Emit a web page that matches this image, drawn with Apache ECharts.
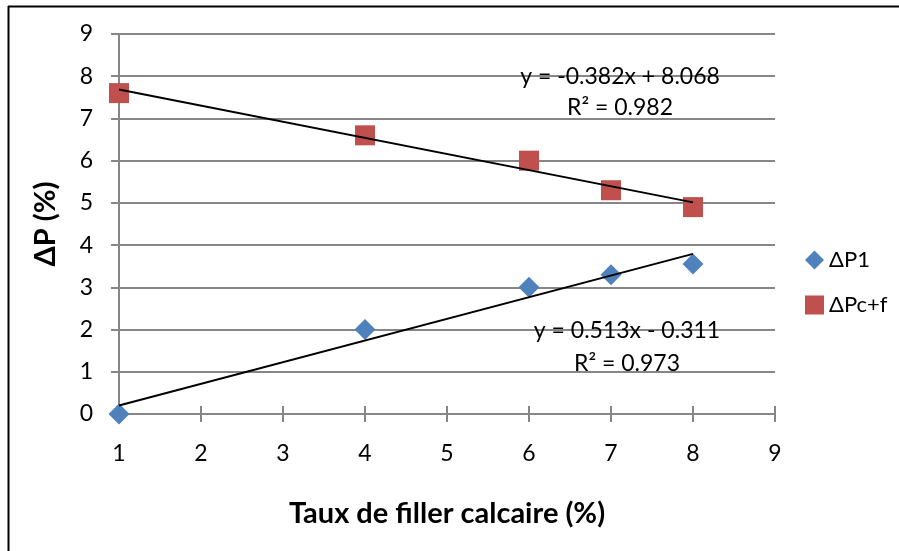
<!DOCTYPE html>
<html><head><meta charset="utf-8">
<script src="https://cdn.jsdelivr.net/npm/echarts@6/dist/echarts.min.js"></script>
<style>html,body{margin:0;padding:0;background:#fff}#c{width:899px;height:551px}</style>
</head><body><div id="c"></div>
<script>
const xP1 = [1, 4, 6, 7, 8];
const yP1 = [0, 2.0, 3.0, 3.3, 3.55];
const xPcf = [1, 4, 6, 7, 8];
const yPcf = [7.6, 6.6, 6.0, 5.3, 4.9];
const trendP1 = [[1, 0.202], [8, 3.793]];
const trendPcf = [[1, 7.686], [8, 5.012]];
const eqP1 = ['y = 0.513x - 0.311', 'R² = 0.973'];
const eqPcf = ['y = -0.382x + 8.068', 'R² = 0.982'];
const seriesNames = ['ΔP1', 'ΔPc+f'];
const xTitle = 'Taux de filler calcaire (%)';
const yTitle = 'ΔP (%)';

const FONT = 'Lato';
const gray = '#868686';
const chart = echarts.init(document.getElementById('c'), null, {renderer: 'canvas'});
const zip = (a, b) => a.map((v, i) => [v, b[i]]);
const eqFont = '23px ' + FONT;
chart.setOption({
  animation: false,
  textStyle: {fontFamily: FONT},
  grid: {left: 119, right: 124, top: 34, bottom: 137},
  legend: {
    orient: 'vertical', left: 800, top: 243, itemGap: 21, itemWidth: 19, itemHeight: 19,
    textStyle: {fontSize: 22, lineHeight: 24, color: '#000', fontFamily: FONT},
    data: [{name: seriesNames[0], icon: 'diamond'}, {name: seriesNames[1], icon: 'rect'}]
  },
  xAxis: [{
    type: 'value', min: 1, max: 9, interval: 1,
    name: xTitle, nameLocation: 'middle', nameGap: 85,
    nameTextStyle: {fontSize: 29, fontWeight: 'bold', color: '#000', fontFamily: FONT},
    axisLine: {lineStyle: {color: gray, width: 2}},
    axisTick: {show: true, length: 8, lineStyle: {color: gray, width: 2}},
    axisLabel: {fontSize: 23, color: '#000', margin: 28},
    splitLine: {show: false}
  }, {
    type: 'value', min: 1, max: 9, interval: 1, position: 'bottom',
    axisLine: {show: false},
    axisTick: {show: true, inside: true, length: 8, lineStyle: {color: gray, width: 2}},
    axisLabel: {show: false}, splitLine: {show: false}
  }],
  yAxis: {
    type: 'value', min: 0, max: 9, interval: 1,
    name: yTitle, nameLocation: 'middle', nameGap: 59, nameRotate: 90,
    nameTextStyle: {fontSize: 29, fontWeight: 'bold', color: '#000', fontFamily: FONT},
    axisLine: {show: true, lineStyle: {color: gray, width: 2}},
    axisTick: {show: true, length: 8, lineStyle: {color: gray, width: 2}},
    axisLabel: {fontSize: 23, color: '#000', margin: 26},
    splitLine: {show: true, lineStyle: {color: gray, width: 2}}
  },
  series: [
    {name: seriesNames[0], type: 'scatter', symbol: 'diamond', symbolSize: 21,
     itemStyle: {color: '#4F81BD', opacity: 1}, data: zip(xP1, yP1), z: 3},
    {name: seriesNames[1], type: 'scatter', symbol: 'rect', symbolSize: 20,
     itemStyle: {color: '#C0504D', opacity: 1}, data: zip(xPcf, yPcf), z: 3},
    {name: 'trend1', type: 'line', data: trendP1, symbol: 'none', z: 4,
     lineStyle: {color: '#000', width: 2}, silent: true},
    {name: 'trend2', type: 'line', data: trendPcf, symbol: 'none', z: 4,
     lineStyle: {color: '#000', width: 2}, silent: true}
  ],
  graphic: [
    {type: 'line', shape: {x1: 8.5, y1: 6, x2: 8.5, y2: 551}, style: {stroke: '#000', lineWidth: 2}},
    {type: 'line', shape: {x1: 8, y1: 6.5, x2: 899, y2: 6.5}, style: {stroke: '#000', lineWidth: 2}},
    {type: 'text', x: 620, y: 77, z: 10, style: {text: eqPcf[0], font: eqFont, fill: '#000', textAlign: 'center', textVerticalAlign: 'middle'}},
    {type: 'text', x: 620, y: 108, z: 10, style: {text: eqPcf[1], font: eqFont, fill: '#000', textAlign: 'center', textVerticalAlign: 'middle'}},
    {type: 'text', x: 627, y: 331, z: 10, style: {text: eqP1[0], font: eqFont, fill: '#000', textAlign: 'center', textVerticalAlign: 'middle'}},
    {type: 'text', x: 627, y: 364, z: 10, style: {text: eqP1[1], font: eqFont, fill: '#000', textAlign: 'center', textVerticalAlign: 'middle'}}
  ]
});
</script></body></html>
